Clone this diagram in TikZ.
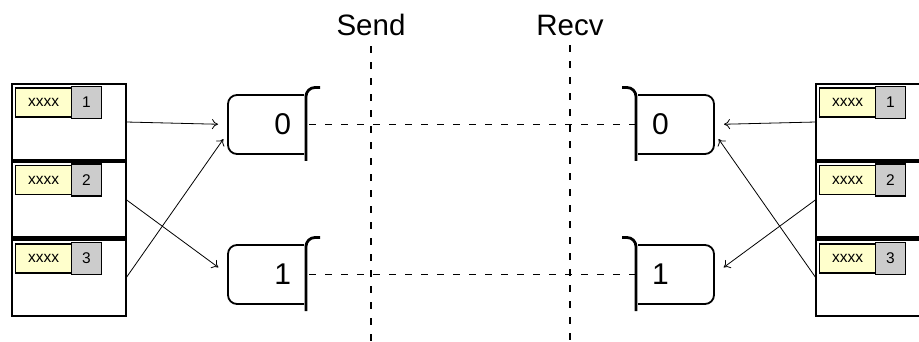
\documentclass[tikz,border=0pt]{standalone}
\usepackage{fontspec}
\setmainfont{Liberation Sans}
\usetikzlibrary{calc,arrows.meta}
\definecolor{tagyellow}{RGB}{255,255,204}
\definecolor{taggray}{RGB}{204,204,204}
\begin{document}
\begin{tikzpicture}[x=1pt,y=-1pt,
  stackbox/.style={draw,line width=2.1pt,minimum width=114pt,minimum height=76pt,inner sep=0pt,outer sep=0pt},
  tagtext/.style={draw,line width=1.9pt,fill=tagyellow,minimum width=56pt,minimum height=29pt,inner sep=0pt,outer sep=0pt,font=\fontsize{15.5}{17}\selectfont},
  tagnum/.style={draw,line width=1.9pt,fill=taggray,minimum width=30pt,minimum height=32pt,inner sep=0pt,outer sep=0pt,font=\fontsize{15.5}{17}\selectfont},
  queue/.style={minimum width=76pt,minimum height=59pt,inner ysep=0pt,outer sep=0pt,font=\fontsize{30}{32}\selectfont},
  sendq/.style={queue,text width=50pt,inner xsep=13pt,align=right},
  recvq/.style={queue,text width=48pt,inner xsep=14pt,align=left},
  qline/.style={line width=1.8pt,rounded corners=9pt},
  bracket/.style={line width=2.8pt,rounded corners=9pt},
  link/.style={line width=0.8pt,-{To[length=6pt,width=10pt]}},
  channel/.style={line width=1.3pt,dash pattern=on 7pt off 9pt},
  heading/.style={font=\fontsize{29.5}{32}\selectfont,inner sep=0pt}
]
\clip (0,0) rectangle (919,342);

% message stacks
\foreach \side/\x in {L/69,R/873}{
  \node[stackbox] (\side1) at (\x,122) {};
  \node[stackbox] (\side2) at (\x,199.5) {};
  \node[stackbox] (\side3) at (\x,278) {};
  \foreach \k in {1,2,3}{
    \node[tagtext,anchor=north west] (\side\k t) at ($(\side\k.north west)+(3.5,4)$) {xxxx};
    \node[tagnum,anchor=west] (\side\k n) at (\side\k t.east) {\k};
  }
}

% queues
\node[sendq] (QS0) at (266,124.5) {0};
\node[sendq] (QS1) at (266,274.5) {1};
\node[recvq] (QR0) at (676,124.5) {0};
\node[recvq] (QR1) at (676,274.5) {1};

\foreach \q in {QS0,QS1}{
  \draw[qline] (\q.north east) -- (\q.north west) -- (\q.south west) -- (\q.south east);
  \draw[bracket] ($(\q.south east)+(2,7)$) -- ($(\q.north east)+(2,-7.5)$) -- ($(\q.north east)+(16,-7.5)$);
}
\foreach \q in {QR0,QR1}{
  \draw[qline] (\q.north west) -- (\q.north east) -- (\q.south east) -- (\q.south west);
  \draw[bracket] ($(\q.south west)+(-2,7)$) -- ($(\q.north west)+(-2,-7.5)$) -- ($(\q.north west)+(-16,-7.5)$);
}

% send / receive boundaries
\node[heading] (send) at (371,25) {Send};
\node[heading] (recv) at (570,25) {Recv};
\coordinate (sendEnd) at (371,342);
\coordinate (recvEnd) at (570,342);
\draw[channel] ([yshift=-10pt]send.south) -- (sendEnd);
\draw[channel] ([yshift=-10pt]recv.south) -- (recvEnd);

% channels between queues
\draw[channel] ($(QS0.east)+(5,0)$) -- ($(QR0.west)+(-3,0)$);
\draw[channel] ($(QS1.east)+(5,0)$) -- ($(QR1.west)+(-3,0)$);

% enqueue arrows
\draw[link,shorten >=10pt] (L1.east) -- (QS0.west);
\draw[link,shorten >=12pt] (L2.east) -- (QS1.west);
\draw[link,shorten >=8pt] (L3.east) -- ($(QS0.west)+(0,8)$);
\draw[link,shorten >=10pt] (R1.west) -- (QR0.east);
\draw[link,shorten >=12pt] (R2.west) -- (QR1.east);
\draw[link,shorten >=8pt] (R3.west) -- ($(QR0.east)+(0,8)$);
\end{tikzpicture}
\end{document}
